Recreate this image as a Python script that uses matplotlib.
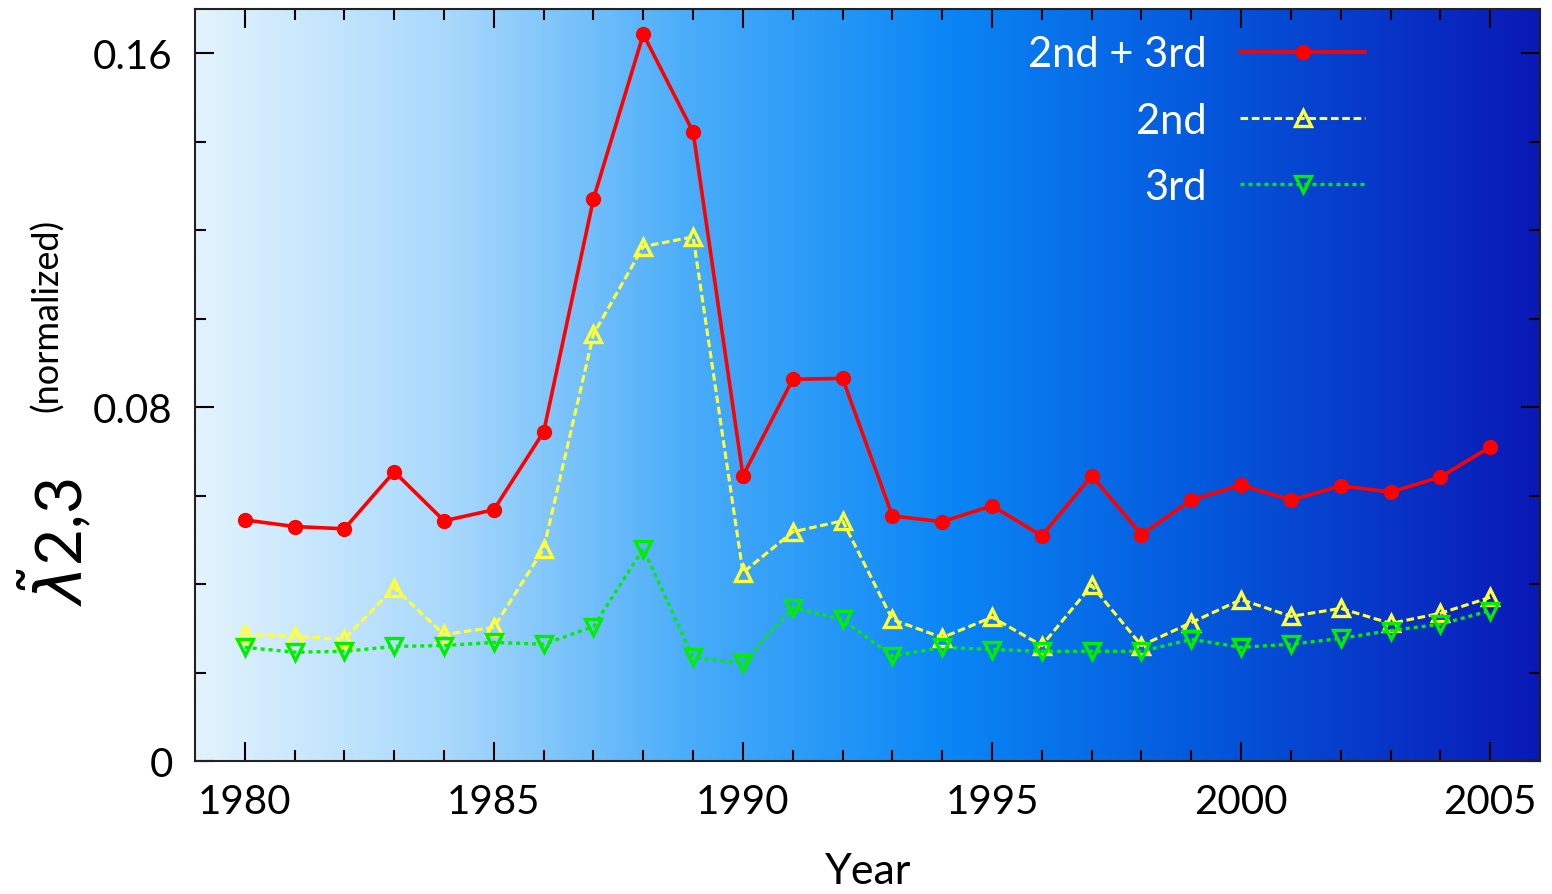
import numpy as np
import matplotlib
matplotlib.use('Agg')
import matplotlib.pyplot as plt
from matplotlib.colors import LinearSegmentedColormap

plt.rcParams['font.family'] = ['Lato', 'DejaVu Sans']
plt.rcParams['mathtext.fontset'] = 'dejavusans'

# data
years = list(range(1980, 2006))
both = [0.0545, 0.0530, 0.0525, 0.0654, 0.0543, 0.0568, 0.0744, 0.1271, 0.1643,
        0.1422, 0.0645, 0.0863, 0.0865, 0.0554, 0.0541, 0.0577, 0.0509, 0.0645,
        0.0512, 0.0590, 0.0624, 0.0590, 0.0622, 0.0608, 0.0642, 0.0710]
second = [0.0286, 0.0282, 0.0275, 0.0392, 0.0286, 0.0302, 0.0480, 0.0965, 0.1163,
          0.1185, 0.0426, 0.0518, 0.0543, 0.0320, 0.0279, 0.0325, 0.0261, 0.0397,
          0.0261, 0.0313, 0.0365, 0.0327, 0.0345, 0.0311, 0.0334, 0.0370]
third = [0.0257, 0.0246, 0.0248, 0.0259, 0.0261, 0.0268, 0.0264, 0.0304, 0.0480,
         0.0234, 0.0221, 0.0347, 0.0320, 0.0237, 0.0257, 0.0252, 0.0248, 0.0248,
         0.0248, 0.0275, 0.0257, 0.0264, 0.0277, 0.0295, 0.0309, 0.0340]
labels = ['2nd + 3rd', '2nd', '3rd']

fig = plt.figure(figsize=(15.52, 8.95), dpi=100)
ax = fig.add_axes([0.1256, 0.1486, 0.8667, 0.8402])

xmin, xmax = 1979, 2006
ymin, ymax = 0, 0.17

# background gradient, light blue -> dark blue
bg = LinearSegmentedColormap.from_list('bg', [
    (0.0, '#e2f3fd'), (0.19, '#a8d8fc'), (0.37, '#48acf9'),
    (0.56, '#0a86f5'), (0.75, '#0458dc'), (1.0, '#0a18b6')])
grad = np.linspace(0, 1, 512).reshape(1, -1)
ax.imshow(grad, cmap=bg, extent=[xmin, xmax, ymin, ymax], aspect='auto',
          zorder=0, interpolation='bilinear')

ax.plot(years, both, color='#ff0000', lw=2.6, marker='o', markersize=10,
        label=labels[0], zorder=3)
ax.plot(years, second, color='#ffff3a', lw=2.2, ls=(0, (2.5, 1.2)), marker='^',
        markersize=12, markerfacecolor='none', markeredgewidth=2.4,
        label=labels[1], zorder=2)
ax.plot(years, third, color='#00ee00', lw=2.4, ls=(0, (1.2, 1.2)), marker='v',
        markersize=12, markerfacecolor='none', markeredgewidth=2.4,
        label=labels[2], zorder=2)

ax.set_xlim(xmin, xmax)
ax.set_ylim(ymin, ymax)
ax.set_xticks([1980, 1985, 1990, 1995, 2000, 2005])
ax.set_xticks(years, minor=True)
ax.set_yticks([0, 0.08, 0.16])
ax.set_yticklabels(['0', '0.08', '0.16'])
ax.set_yticks(np.arange(0, 0.17, 0.02), minor=True)
ax.tick_params(which='both', direction='in', top=True, right=True,
               labelsize=29, pad=16)
ax.tick_params(which='major', length=14, width=1.5)
ax.tick_params(which='minor', length=8, width=1.5)
for s in ax.spines.values():
    s.set_linewidth(1.5)
    s.set_color('#222222')

# axis titles
fig.text(868 / 1552, 1 - 872 / 895, 'Year', fontsize=31, ha='center', va='center')
fig.text(55 / 1552, 1 - 542 / 895, r'$\tilde{\lambda}$2,3', fontsize=46,
         rotation=90, ha='center', va='center')
fig.text(47 / 1552, 1 - 315 / 895, '(normalized)', fontsize=26,
         rotation=90, ha='center', va='center')

leg = ax.legend(loc='upper right', bbox_to_anchor=(0.87, 0.965), frameon=False,
                markerfirst=False, fontsize=30, handlelength=3.0,
                labelspacing=0.68, handletextpad=0.8, borderpad=0,
                borderaxespad=0)
for t in leg.get_texts():
    t.set_color('white')

fig.savefig('out.png', dpi=100)
